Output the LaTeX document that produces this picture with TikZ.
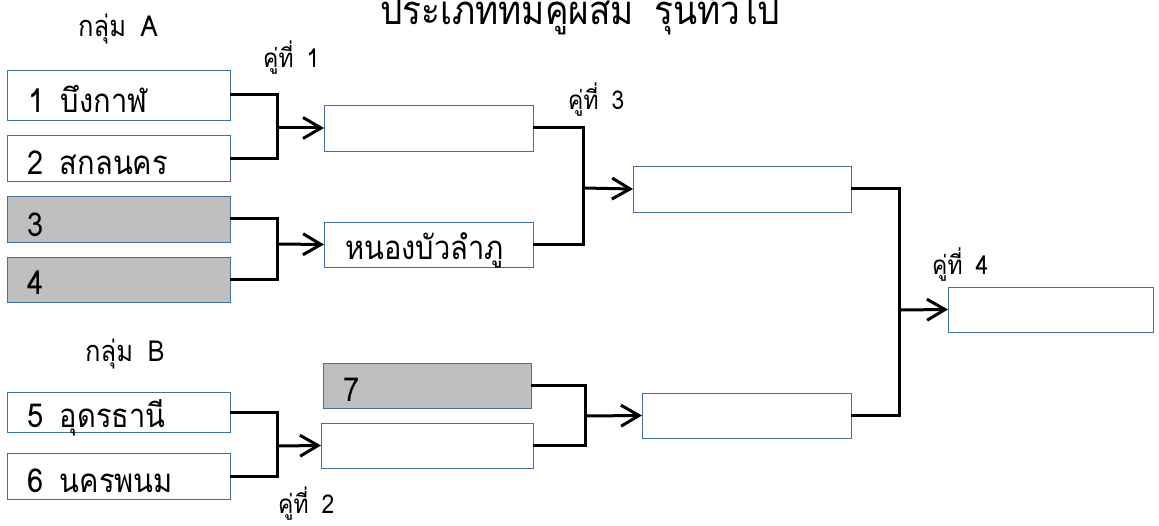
\documentclass[tikz,border=0pt]{standalone}
\usepackage{fontspec}
\newfontfamily\thai[Script=Thai,WordSpace=1.7,FakeStretch=0.88]{Loma}
\usetikzlibrary{arrows.meta}
\definecolor{boxline}{HTML}{41719C}
\definecolor{boxfill}{HTML}{BFBFBF}
\begin{document}
\begin{tikzpicture}[x=1pt,y=-1pt,
  box/.style={draw=boxline,line width=0.9pt,fill=white,rectangle,inner sep=0pt,outer sep=0pt},
  grey/.style={box,fill=boxfill},
  txt/.style={anchor=base west,inner sep=0pt,font=\thai\fontsize{33}{33}\selectfont},
  grp/.style={anchor=base west,inner sep=0pt,font=\thai\fontsize{29}{29}\selectfont},
  pair/.style={anchor=base west,inner sep=0pt,font=\thai\fontsize{26}{26}\selectfont},
  ttl/.style={anchor=base west,inner sep=0pt,font=\thai\fontsize{40}{40}\selectfont},
  conn/.style={line width=3pt,line join=miter},
  arr/.style={conn,-{Straight Barb[length=18pt,width=21pt,line width=3pt]}}]
\useasboundingbox (0,0) rectangle (1159,526);
% title
\node[ttl] (title) at (380,25) {ประเภททีมคู่ผสม รุ่นทั่วไป};
\node[grp] (ga) at (78,37) {กลุ่ม A};
\node[grp] (gb) at (85,362) {กลุ่ม B};
\node[pair] (p1) at (263,68) {คู่ที่ 1};
\node[pair] (p2) at (278,513) {คู่ที่ 2};
\node[pair] (p3) at (568,110) {คู่ที่ 3};
\node[pair] (p4) at (932,275) {คู่ที่ 4};
% first column
\node[box,minimum width=223pt,minimum height=50pt] (b1) at (118.5,95) {};
\node[box,minimum width=223pt,minimum height=46pt] (b2) at (118.5,158.5) {};
\node[grey,minimum width=223pt,minimum height=46pt] (b3) at (118.5,219) {};
\node[grey,minimum width=223pt,minimum height=45pt] (b4) at (118.5,279.5) {};
\node[box,minimum width=223pt,minimum height=40pt] (b5) at (118.5,412) {};
\node[box,minimum width=223pt,minimum height=46pt] (b6) at (118.5,476) {};
\node[txt] (t1) at (28,113) {1 บึงกาฬ};
\node[txt] (t2) at (27,175) {2 สกลนคร};
\node[txt] (t3) at (27,237) {3};
\node[txt] (t4) at (27,295) {4};
\node[txt] (t5) at (27,428) {5 อุดรธานี};
\node[txt] (t6) at (27,492) {6 นครพนม};
% second column
\node[box,minimum width=209pt,minimum height=46pt] (r1) at (428.5,128) {};
\node[box,minimum width=209pt,minimum height=45pt] (r2) at (428.5,244.5) {};
\node[grey,minimum width=208pt,minimum height=45pt] (r3) at (427,385.5) {};
\node[box,minimum width=212pt,minimum height=45pt] (r4) at (427,445.5) {};
\node[txt] (tr2) at (345,260) {หนองบัวลำภู};
\node[txt] (tr3) at (343,401) {7};
% third column
\node[box,minimum width=218pt,minimum height=46pt] (q1) at (742,189) {};
\node[box,minimum width=209pt,minimum height=45pt] (q2) at (746.5,415.5) {};
% final
\node[box,minimum width=205pt,minimum height=45pt] (f) at (1050.5,309.5) {};
% junctions
\coordinate (j1) at (277,128);
\coordinate (j2) at (277,244);
\coordinate (j3) at (277,446);
\coordinate (j4) at (583,188);
\coordinate (j5) at (585,416);
\coordinate (j6) at (899,310);
\draw[conn] (b1.east) -| (j1) |- (b2.east);
\draw[arr] (j1) -- (r1.west);
\draw[conn] (b3.east) -| (j2) |- (b4.east);
\draw[arr] (j2) -- (r2.west);
\draw[conn] (b5.east) -| (j3) |- (b6.east);
\draw[arr] (j3) -- (r4.west);
\draw[conn] (r1.east) -| (j4) |- (r2.east);
\draw[arr] (j4) -- (q1.west);
\draw[conn] (r3.east) -| (j5) |- (r4.east);
\draw[arr] (j5) -- (q2.west);
\draw[conn] (q1.east) -| (j6) |- (q2.east);
\draw[arr] (j6) -- (f.west);
\end{tikzpicture}
\end{document}
